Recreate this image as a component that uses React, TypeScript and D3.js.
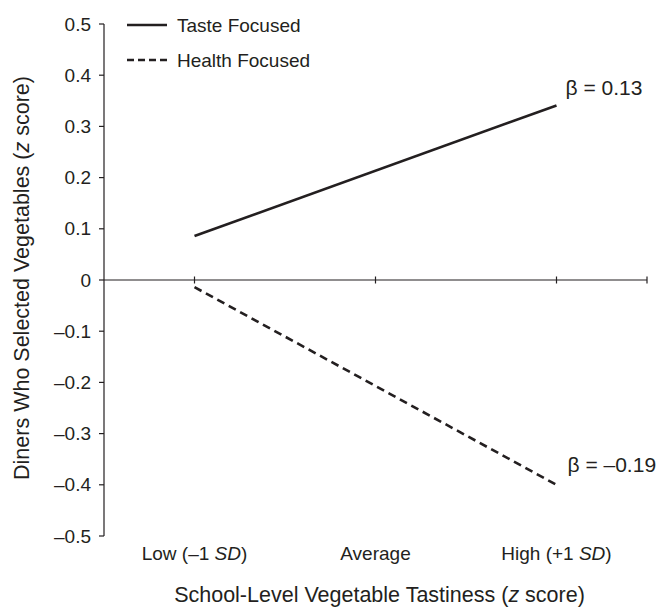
import React from "react";
import * as d3 from "d3";

const categories = ["Low (\u20131 SD)", "Average", "High (+1 SD)"];
const yTicks = [0.5, 0.4, 0.3, 0.2, 0.1, 0, -0.1, -0.2, -0.3, -0.4, -0.5];
const tasteValues = [0.086, 0.341]; // at Low, High
const healthValues = [-0.014, -0.4];
const seriesNames = ["Taste Focused", "Health Focused"];
const betaLabels = ["\u03B2 = 0.13", "\u03B2 = \u20130.19"];

const W = 659;
const H = 610;
const FONT = "'Liberation Sans', Arial, sans-serif";
const FS = 19;
const FS_TITLE = 21.5;
const FS_BETA = 21;
const INK = "#231f20";

export default function App() {
  const x = d3.scaleLinear().domain([-0.5, 2.5]).range([104, 647]);
  const y = d3.scaleLinear().domain([-0.5, 0.5]).range([536, 24]);
  const line = d3
    .line<[number, number]>()
    .x((d) => x(d[0]))
    .y((d) => y(d[1]));
  const tastePts: [number, number][] = [
    [0, tasteValues[0]],
    [2, tasteValues[1]],
  ];
  const healthPts: [number, number][] = [
    [0, healthValues[0]],
    [2, healthValues[1]],
  ];
  const fmt = (v: number) =>
    v === 0 ? "0" : v < 0 ? "\u2013" + d3.format(".1f")(-v) : d3.format(".1f")(v);

  const renderCat = (c: string) => {
    const m = c.match(/^(.*?)(SD)(\))$/);
    if (!m) return c;
    return (
      <>
        {m[1]}
        <tspan fontStyle="italic">{m[2]}</tspan>
        {m[3]}
      </>
    );
  };

  const xTickVals = [0, 1, 2, 2.5];

  return (
    <svg
      width={W}
      height={H}
      style={{ position: "absolute", left: 0, top: 0, background: "#fff" }}
      fontFamily={FONT}
    >
      <line x1={x(-0.5)} x2={x(-0.5)} y1={y(0.5)} y2={y(-0.5)} stroke={INK} strokeWidth={1.2} />
      {yTicks.map((t) => (
        <g key={t}>
          <line x1={x(-0.5) - 5} x2={x(-0.5)} y1={y(t)} y2={y(t)} stroke={INK} strokeWidth={1.2} />
          <text
            x={x(-0.5) - 13}
            y={y(t)}
            textAnchor="end"
            dominantBaseline="central"
            fontSize={FS}
            fill={INK}
          >
            {fmt(t)}
          </text>
        </g>
      ))}
      <line x1={x(-0.5)} x2={x(2.5)} y1={y(0)} y2={y(0)} stroke={INK} strokeWidth={1.2} />
      {xTickVals.map((t) => (
        <line key={t} x1={x(t)} x2={x(t)} y1={y(0) - 3.5} y2={y(0) + 3.5} stroke={INK} strokeWidth={1.2} />
      ))}
      {categories.map((c, i) => (
        <text
          key={c}
          x={x(i)}
          y={553}
          textAnchor="middle"
          dominantBaseline="central"
          fontSize={FS}
          fill={INK}
        >
          {renderCat(c)}
        </text>
      ))}
      <text x={x(1) + 4} y={595} textAnchor="middle" dominantBaseline="central" fontSize={FS_TITLE} fill={INK}>
        School-Level Vegetable Tastiness (<tspan fontStyle="italic">z</tspan> score)
      </text>
      <text
        transform={`translate(22, ${y(0) - 2}) rotate(-90)`}
        textAnchor="middle"
        dominantBaseline="central"
        fontSize={FS_TITLE}
        fill={INK}
      >
        Diners Who Selected Vegetables (<tspan fontStyle="italic">z</tspan> score)
      </text>
      <path d={line(tastePts) || ""} fill="none" stroke={INK} strokeWidth={2.6} />
      <path d={line(healthPts) || ""} fill="none" stroke={INK} strokeWidth={2.6} strokeDasharray="8,5" />
      <text x={x(2) + 9} y={y(tasteValues[1]) - 18} dominantBaseline="central" fontSize={FS_BETA} fill={INK}>
        {betaLabels[0]}
      </text>
      <text x={x(2) + 11} y={y(healthValues[1]) - 20} dominantBaseline="central" fontSize={FS_BETA} fill={INK}>
        {betaLabels[1]}
      </text>
      {seriesNames.map((s, i) => (
        <g key={s} transform={`translate(127, ${25 + i * 35})`}>
          <line
            x1={0}
            x2={40}
            y1={0}
            y2={0}
            stroke={INK}
            strokeWidth={2.6}
            strokeDasharray={i === 1 ? "7,4" : undefined}
          />
          <text x={50} y={0} dominantBaseline="central" fontSize={FS} fill={INK}>
            {s}
          </text>
        </g>
      ))}
    </svg>
  );
}
